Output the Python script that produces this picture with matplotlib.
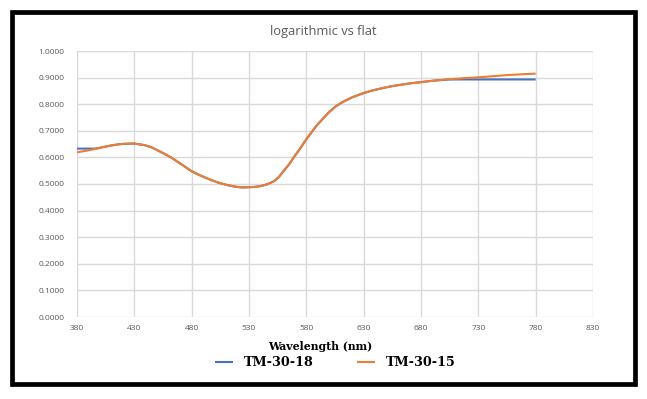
import matplotlib
matplotlib.use("Agg")
import matplotlib.pyplot as plt
from matplotlib.patches import Rectangle
from matplotlib.ticker import FuncFormatter

# ---- data ----
wl_15 = [380, 388, 395, 402, 410, 416, 421, 430, 439, 445, 450, 456, 462, 470, 480,
         488, 497, 504, 511, 518, 524, 530, 535, 540, 546, 552, 556, 560, 565, 569,
         574, 580, 585, 589, 595, 600, 606, 612, 620, 630, 638, 648, 655, 662, 670,
         680, 692, 705, 718, 730, 742, 754, 766, 780]
tm30_15 = [0.619, 0.625, 0.631, 0.638, 0.645, 0.649, 0.651, 0.652, 0.646, 0.638, 0.627, 0.614,
           0.600, 0.577, 0.548, 0.531, 0.515, 0.504, 0.496, 0.490, 0.487, 0.488, 0.489, 0.492,
           0.499, 0.511, 0.526, 0.548, 0.574, 0.600, 0.630, 0.668, 0.697, 0.720, 0.748, 0.771,
           0.793, 0.809, 0.826, 0.842, 0.852, 0.862, 0.868, 0.873, 0.878, 0.883, 0.889, 0.894,
           0.898, 0.901, 0.905, 0.909, 0.912, 0.915]

wl_18 = [380, 396, 402, 410, 416, 421, 430, 439, 445, 450, 456, 462, 470, 480,
         488, 497, 504, 511, 518, 524, 530, 535, 540, 546, 552, 556, 560, 565, 569,
         574, 580, 585, 589, 595, 600, 606, 612, 620, 630, 638, 648, 655, 662, 670,
         680, 692, 705, 780]
tm30_18 = [0.633, 0.633, 0.638, 0.645, 0.649, 0.651, 0.652, 0.646, 0.638, 0.627, 0.614,
           0.600, 0.577, 0.548, 0.531, 0.515, 0.504, 0.496, 0.490, 0.487, 0.488, 0.489, 0.492,
           0.499, 0.511, 0.526, 0.548, 0.574, 0.600, 0.630, 0.668, 0.697, 0.720, 0.748, 0.771,
           0.793, 0.809, 0.826, 0.842, 0.852, 0.862, 0.868, 0.873, 0.878, 0.883, 0.889, 0.893,
           0.893]

x_ticks = [380, 430, 480, 530, 580, 630, 680, 730, 780, 830]
y_ticks = [0.0, 0.1, 0.2, 0.3, 0.4, 0.5, 0.6, 0.7, 0.8, 0.9, 1.0]

title = "logarithmic vs flat"
x_label = "Wavelength (nm)"
series_names = ["TM-30-18", "TM-30-15"]

# ---- figure ----
W, H = 647, 399
fig = plt.figure(figsize=(W / 100, H / 100), dpi=100)
fig.patch.set_facecolor("white")

ax = fig.add_axes([77 / W, (H - 317) / H, 516 / W, 266 / H])
grid_c = "#d9d9d9"
for s in ax.spines.values():
    s.set_visible(False)
ax.set_xlim(380, 830)
ax.set_ylim(0, 1.0)
ax.set_xticks(x_ticks)
ax.set_yticks(y_ticks)
ax.grid(True, color=grid_c, linewidth=1.0)
ax.set_axisbelow(True)
ax.tick_params(length=0, labelsize=6.0, labelcolor="#595959")
ax.tick_params(axis="y", pad=9)
ax.tick_params(axis="x", pad=6)
ax.yaxis.set_major_formatter(FuncFormatter(lambda v, p: f"{v:.4f}"))
for lab in ax.get_xticklabels() + ax.get_yticklabels():
    lab.set_family("Open Sans")

l18, = ax.plot(wl_18, tm30_18, color="#4472C4", lw=1.5, label=series_names[0], solid_capstyle="butt")
l15, = ax.plot(wl_15, tm30_15, color="#ED7D31", lw=1.5, label=series_names[1], solid_capstyle="butt")

ax.set_xlabel(x_label, family="DejaVu Serif", fontweight="bold", fontsize=7.8, color="black")
ax.xaxis.set_label_coords((320 - 77) / 516, -(347 - 317) / 266)
ax.xaxis.label.set_va("center")

fig.text(323 / W, 1 - 31 / H, title, ha="center", va="center", fontsize=9.3,
         color="#595959", family="Open Sans")

leg = fig.legend(handles=[l18, l15], loc="center", bbox_to_anchor=(335 / W, 1 - 363 / H),
                 ncol=2, frameon=False, handlelength=1.45, handletextpad=0.8,
                 columnspacing=3.4, prop={"family": "DejaVu Serif", "weight": "bold", "size": 9.2})

# black frame
fig.add_artist(Rectangle((11.5 / W, (H - 383.5) / H), (634.5 - 11.5) / W, (383.5 - 11.5) / H,
                         transform=fig.transFigure, fill=False, edgecolor="black", linewidth=3.4))

fig.savefig("out.png", dpi=100)
